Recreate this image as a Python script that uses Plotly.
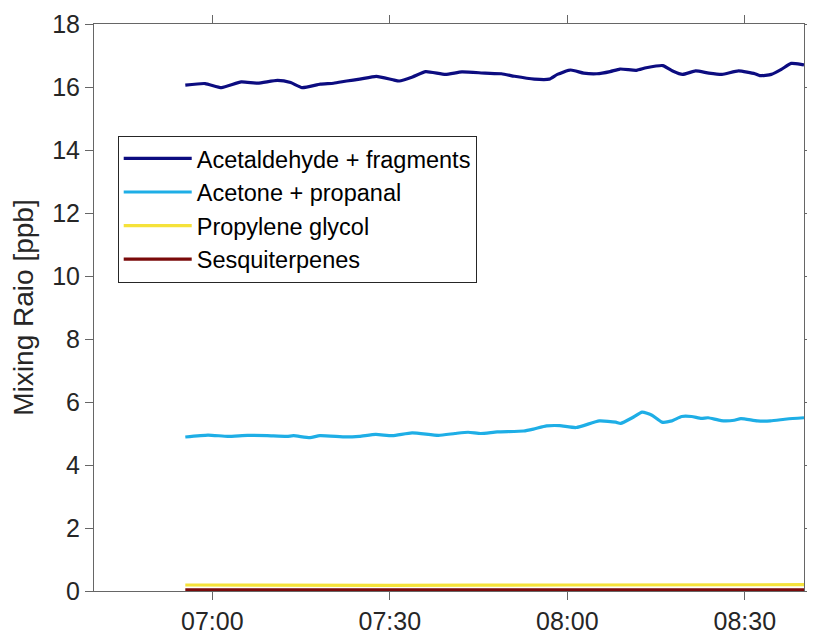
import plotly.graph_objects as go

DAY = "2024-01-01 "

# Acetaldehyde + fragments
t_acetal = ["06:55:26", "06:58:47", "07:01:33", "07:04:53", "07:07:41", "07:11:01",
            "07:13:14", "07:15:11", "07:18:15", "07:20:29", "07:22:42", "07:24:55",
            "07:27:43", "07:30:30", "07:31:36", "07:33:50", "07:36:04", "07:39:24",
            "07:42:11", "07:46:05", "07:48:52", "07:51:05", "07:54:25", "07:56:56",
            "07:58:19", "08:00:33", "08:02:46", "08:04:59", "08:07:14", "08:08:54",
            "08:11:40", "08:13:20", "08:16:08", "08:17:48", "08:19:28", "08:21:41",
            "08:23:55", "08:26:08", "08:28:56", "08:31:42", "08:32:32", "08:34:29",
            "08:36:10", "08:37:50", "08:39:30", "08:40:00"]
v_acetal = [16.06, 16.11, 15.98, 16.16, 16.12, 16.21, 16.14, 15.98, 16.09, 16.12,
            16.19, 16.25, 16.34, 16.23, 16.19, 16.32, 16.49, 16.40, 16.48, 16.44,
            16.42, 16.34, 16.25, 16.25, 16.40, 16.54, 16.44, 16.42, 16.49, 16.57,
            16.53, 16.61, 16.68, 16.51, 16.40, 16.51, 16.44, 16.40, 16.51, 16.42,
            16.36, 16.40, 16.56, 16.75, 16.72, 16.70]

# Acetone + propanal
t_acetone = ["06:55:26", "06:59:16", "07:02:36", "07:05:56", "07:09:17", "07:12:37",
             "07:13:44", "07:16:30", "07:18:11", "07:22:38", "07:24:51", "07:27:38",
             "07:30:26", "07:33:46", "07:38:13", "07:41:00", "07:43:14", "07:45:22",
             "07:48:09", "07:52:36", "07:54:16", "07:56:30", "07:58:43", "08:01:30",
             "08:05:24", "08:08:11", "08:09:01", "08:10:58", "08:12:38", "08:14:18",
             "08:15:59", "08:17:39", "08:19:19", "08:20:59", "08:22:40", "08:23:47",
             "08:25:59", "08:28:13", "08:29:20", "08:32:07", "08:34:20", "08:37:07",
             "08:40:00"]
v_acetone = [4.89, 4.95, 4.91, 4.94, 4.93, 4.91, 4.93, 4.87, 4.93, 4.89, 4.91, 4.97,
             4.93, 5.02, 4.94, 5.00, 5.04, 5.00, 5.05, 5.08, 5.14, 5.24, 5.25, 5.19,
             5.40, 5.36, 5.32, 5.50, 5.68, 5.58, 5.36, 5.40, 5.54, 5.54, 5.48, 5.50,
             5.41, 5.42, 5.47, 5.40, 5.40, 5.46, 5.50]

# Propylene glycol
t_glycol = ["06:55:26", "07:30:00", "08:00:00", "08:40:00"]
v_glycol = [0.19, 0.18, 0.19, 0.20]

# Sesquiterpenes
t_sesq = ["06:55:26", "07:30:00", "08:00:00", "08:40:00"]
v_sesq = [0.04, 0.04, 0.04, 0.04]

names = ["Acetaldehyde + fragments", "Acetone + propanal", "Propylene glycol", "Sesquiterpenes"]
colors = ["#0c0c80", "#1eaee6", "#f5e23a", "#7a0a0a"]
series = [(t_acetal, v_acetal), (t_acetone, v_acetone), (t_glycol, v_glycol), (t_sesq, v_sesq)]

x_ticks = ["07:00", "07:30", "08:00", "08:30"]
y_ticks = [0, 2, 4, 6, 8, 10, 12, 14, 16, 18]

fig = go.Figure()
for name, col, (t, v) in zip(names, colors, series):
    fig.add_trace(go.Scatter(
        x=[DAY + s for s in t], y=v, mode="lines", name=name,
        line=dict(color=col, width=3.2, shape="spline", smoothing=0.5)))

font_family = "Liberation Sans, Arial, sans-serif"
fig.update_layout(
    width=807, height=631,
    margin=dict(l=86, r=2, t=15, b=48),
    paper_bgcolor="white", plot_bgcolor="white",
    font=dict(family=font_family, size=25, color="#262626"),
    showlegend=True,
    legend=dict(
        x=0.0334, y=0.803, xanchor="left", yanchor="top",
        bgcolor="white", bordercolor="#262626", borderwidth=1,
        font=dict(family=font_family, size=23.5, color="black"),
        itemwidth=68, tracegroupgap=0,
    ),
    xaxis=dict(
        type="date",
        range=[DAY + "06:40:00", DAY + "08:40:00"],
        tickvals=[DAY + s for s in x_ticks], ticktext=x_ticks,
        showline=True, mirror="ticks", linecolor="#666666", linewidth=1,
        ticks="outside", ticklen=8, tickcolor="#666666",
        showgrid=False, zeroline=False,
        tickfont=dict(size=25, color="#262626"),
    ),
    yaxis=dict(
        range=[0, 18], tickvals=y_ticks,
        showline=True, mirror="ticks", linecolor="#666666", linewidth=1,
        ticks="outside", ticklen=8, tickcolor="#666666",
        showgrid=False, zeroline=False,
        tickfont=dict(size=25, color="#262626"),
        title=dict(text="Mixing Raio [ppb]", font=dict(size=28, color="#262626"), standoff=10),
    ),
)

fig.write_html("out.html")
